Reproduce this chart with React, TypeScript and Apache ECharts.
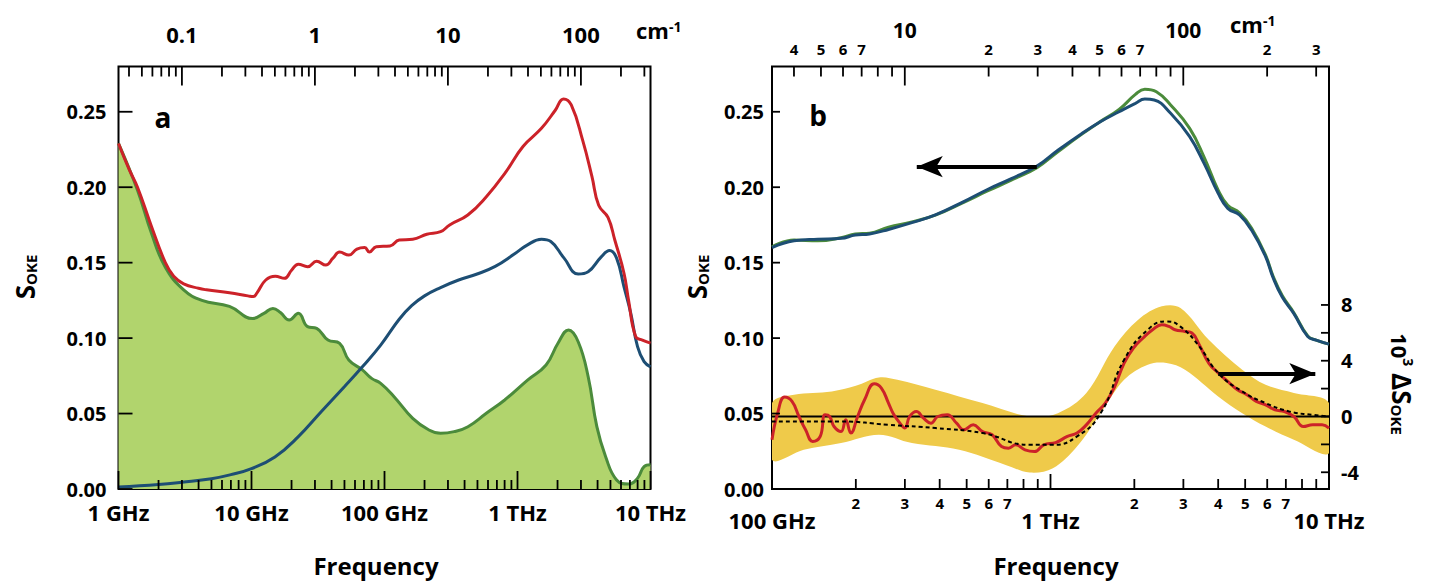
import React, { useEffect, useRef } from 'react';
import * as echarts from 'echarts';

const FONT = '"Open Sans", "Liberation Sans", "DejaVu Sans", sans-serif';
const GHZ_PER_CM = 29.9792458;

// ---------- Panel a (x in GHz) ----------
const A_X_MAJOR = [1, 10, 100, 1000, 10000];
const A_X_MAJOR_LABELS = ['1 GHz', '10 GHz', '100 GHz', '1 THz', '10 THz'];
const A_X_MINOR = [2, 3, 4, 5, 6, 7, 8, 9, 20, 30, 40, 50, 60, 70, 80, 90, 200, 300, 400, 500, 600, 700, 800, 900, 2000, 3000, 4000, 5000, 6000, 7000, 8000, 9000];
const A_TOP_MAJOR = [0.1, 1, 10, 100];
const A_TOP_MAJOR_LABELS = ['0.1', '1', '10', '100'];
const A_TOP_MINOR = [0.04, 0.05, 0.06, 0.07, 0.08, 0.09, 0.2, 0.3, 0.4, 0.5, 0.6, 0.7, 0.8, 0.9, 2, 3, 4, 5, 6, 7, 8, 9, 20, 30, 40, 50, 60, 70, 80, 90, 200, 300];
const Y_TICKS = [0, 0.05, 0.1, 0.15, 0.2, 0.25];

const RED_A = [[1, 0.229], [1.2, 0.212], [1.39, 0.2], [1.77, 0.174], [2.25, 0.15], [2.6, 0.141], [3.09, 0.136], [4.0, 0.133], [4.59, 0.132], [6.83, 0.13], [9.4, 0.128], [10.3, 0.1275], [11, 0.13], [12.8, 0.1385], [15.1, 0.141], [17.7, 0.1396], [20, 0.145], [22.5, 0.149], [26.4, 0.1473], [30.9, 0.151], [36.2, 0.1484], [41, 0.153], [46, 0.157], [53.9, 0.155], [62, 0.159], [71, 0.16], [77, 0.157], [86.8, 0.1606], [110, 0.161], [129, 0.165], [163, 0.1655], [208, 0.1688], [264, 0.1705], [309, 0.175], [423, 0.1816], [583, 0.1937], [801, 0.209], [1100, 0.227], [1514, 0.239], [1923, 0.251], [2218, 0.2585], [2537, 0.2545], [3092, 0.231], [3630, 0.207], [4077, 0.188], [4790, 0.18], [5390, 0.165], [6320, 0.143], [6840, 0.125], [7730, 0.101], [8690, 0.0987], [10000, 0.0967]];
const BLUE_A = [[1, 0.0013], [2, 0.003], [3, 0.0045], [5, 0.0068], [7, 0.0095], [10, 0.0135], [15, 0.0212], [22.5, 0.0347], [33.4, 0.0512], [49.9, 0.0678], [68.2, 0.081], [93.6, 0.0954], [129, 0.1125], [160, 0.1215], [200, 0.128], [264, 0.1335], [361, 0.1385], [497, 0.1425], [680, 0.1475], [940, 0.1555], [1190, 0.1618], [1514, 0.1655], [1780, 0.164], [2240, 0.153], [2860, 0.1425], [3400, 0.144], [4230, 0.1535], [4930, 0.158], [5560, 0.153], [6320, 0.134], [7100, 0.1166], [7990, 0.0943], [8950, 0.0844], [10000, 0.081]];
const GREEN_A = [[1, 0.229], [1.39, 0.198], [1.77, 0.1695], [2.25, 0.147], [3.09, 0.132], [4.24, 0.125], [6.83, 0.121], [10.2, 0.113], [12.4, 0.1164], [14.5, 0.1197], [16.5, 0.117], [19.2, 0.112], [22.5, 0.1164], [26.4, 0.1076], [30.9, 0.1065], [37.6, 0.0987], [46, 0.0965], [53.9, 0.0855], [68.2, 0.0789], [80, 0.0733], [93.6, 0.07], [118, 0.0612], [163, 0.0468], [216, 0.0391], [264, 0.0369], [334, 0.038], [424, 0.0413], [583, 0.0502], [801, 0.059], [1190, 0.0722], [1640, 0.0822], [2015, 0.0966], [2420, 0.1054], [2860, 0.0976], [3400, 0.0744], [3950, 0.0413], [4600, 0.0214], [5560, 0.006], [6840, 0.0033], [7990, 0.0071], [8950, 0.0148], [10000, 0.016]];

// ---------- Panel b ----------
const B_X_MAJOR = [100, 1000, 10000];
const B_X_MAJOR_LABELS = ['100 GHz', '1 THz', '10 THz'];
const B_X_MINOR = [200, 300, 400, 500, 600, 700, 800, 900, 2000, 3000, 4000, 5000, 6000, 7000, 8000, 9000];
const B_X_MINOR_LABELED = [200, 300, 400, 500, 600, 700, 2000, 3000, 4000, 5000, 6000, 7000];
const B_TOP_MAJOR = [10, 100];
const B_TOP_MINOR = [4, 5, 6, 7, 8, 9, 20, 30, 40, 50, 60, 70, 80, 90, 200, 300];
const B_TOP_MINOR_LABELED = [4, 5, 6, 7, 20, 30, 40, 50, 60, 70, 200, 300];
const R_TICKS = [-4, -2, 0, 2, 4, 6, 8];
const R_LABELS = [-4, 0, 4, 8];

const BLUE_B = [[100, 0.16], [120, 0.1645], [146, 0.1655], [177, 0.1661], [199, 0.1683], [224, 0.169], [262, 0.172], [318, 0.1765], [386, 0.1816], [488, 0.1905], [594, 0.1985], [720, 0.2055], [894, 0.214], [1063, 0.2245], [1293, 0.2355], [1510, 0.2434], [1763, 0.25], [2018, 0.2556], [2181, 0.2584], [2358, 0.2578], [2700, 0.249], [3160, 0.2335], [3560, 0.2158], [4000, 0.196], [4330, 0.186], [4770, 0.1816], [5270, 0.1716], [5920, 0.154], [6300, 0.14], [6800, 0.127], [7470, 0.1164], [8390, 0.101], [8990, 0.0987], [10000, 0.096]];
const GREEN_B = [[100, 0.1605], [120, 0.165], [146, 0.1645], [177, 0.1665], [199, 0.169], [224, 0.1695], [262, 0.1735], [318, 0.177], [386, 0.1815], [488, 0.19], [594, 0.1975], [720, 0.2045], [894, 0.213], [1063, 0.2235], [1293, 0.235], [1510, 0.2435], [1763, 0.2515], [2018, 0.2615], [2181, 0.265], [2400, 0.2633], [2700, 0.2545], [3160, 0.239], [3560, 0.22], [4000, 0.198], [4330, 0.188], [4770, 0.183], [5270, 0.173], [5920, 0.155], [6300, 0.141], [6800, 0.128], [7470, 0.117], [8390, 0.1015], [8990, 0.0987], [10000, 0.096]];

const DELTA_B = [[100, -1.67], [104.8, 0.24], [111, 1.39], [118, 1.08], [125, 0], [132, -0.95], [140, -1.79], [149, -1.43], [155, 0.12], [161, 0], [167, -0.72], [177, -1.08], [184, -0.24], [192, -1.19], [203, 0], [215, 1.2], [233, 2.35], [247, 2.04], [262, 0.96], [272, 0.24], [288, -0.48], [300, -0.83], [312, 0], [330, 0.36], [350, -0.12], [372, -0.48], [394, 0], [426, 0.12], [460, -0.48], [488, -0.95], [528, -0.6], [570, -1.08], [617, -1.31], [667, -2.15], [707, -2.27], [750, -2.03], [810, -2.39], [876, -2.51], [947, -2.03], [1043, -1.87], [1150, -1.43], [1245, -1.19], [1345, -0.6], [1455, 0.24], [1574, 0.96], [1700, 2.15], [1838, 3.83], [1985, 4.91], [2150, 5.63], [2325, 6.22], [2510, 6.58], [2660, 6.46], [2800, 6.22], [3040, 6.1], [3220, 5.99], [3420, 5.15], [3700, 3.83], [4000, 3.12], [4330, 2.51], [4690, 1.92], [5070, 1.56], [5480, 1.08], [5920, 0.84], [6400, 0.48], [6920, 0.36], [7480, 0], [8090, -0.72], [8740, -0.6], [9450, -0.6], [10000, -0.83]];
const FIT_B = [[100, -0.36], [177, -0.36], [262, -0.6], [386, -0.83], [570, -1.19], [842, -2.03], [1020, -2.03], [1245, -1.43], [1514, 0.24], [1838, 4.07], [2235, 6.22], [2610, 6.82], [2920, 6.46], [3420, 5.03], [4000, 3.12], [4880, 1.8], [5920, 0.96], [7200, 0.36], [8740, 0.12], [10000, 0]];
const BAND_UPPER = [[100, 0.96], [120, 1.56], [164, 1.8], [200, 2.2], [242, 2.8], [282, 2.63], [386, 1.92], [570, 0.96], [842, 0], [1063, 0.24], [1345, 1.68], [1700, 5.03], [2065, 6.94], [2510, 7.9], [2930, 7.78], [3700, 5.5], [4880, 3.35], [5920, 2.27], [7480, 1.68], [10000, 0.96]];
const BAND_LOWER = [[100, -3.11], [130, -2.39], [177, -1.91], [242, -1.31], [318, -1.91], [470, -2.39], [690, -3.47], [842, -4.02], [1020, -3.71], [1245, -2.15], [1514, 0.24], [1838, 2.63], [2235, 3.71], [2610, 3.83], [3040, 3.35], [4000, 1.44], [4880, 0.24], [5920, -0.72], [7480, -1.67], [10000, -2.63]];
const ZERO_LINE = [[100, 0], [10000, 0]];
const ARROW_LEFT = [[331, 0.2136], [893, 0.2136]];
const ARROW_RIGHT = [[4000, 3.07], [8930, 3.07]];

const RED = '#cc2229';
const BLUE = '#1d4e74';
const GREEN = '#4b8b3b';
const GREEN_FILL = '#b1d46d';
const YELLOW = '#efca4a';

function pick(vals: number[], labels: string[]) {
  return (v: number) => {
    const i = vals.findIndex((x) => Math.abs(Math.log10(x) - Math.log10(v)) < 1e-4);
    return i >= 0 ? labels[i] : '';
  };
}
const leadDigit = (v: number) => {
  const e = Math.floor(Math.log10(v) + 1e-9);
  return String(Math.round(v / Math.pow(10, e)));
};

function logAxis(o: any) {
  return {
    type: 'log', logBase: 10, gridIndex: o.grid, position: o.position, min: o.min, max: o.max,
    axisLine: { show: false }, splitLine: { show: false }, axisTick: { show: false },
    axisLabel: { show: true, customValues: o.labels, formatter: o.fmt, fontSize: o.fontSize || 22, fontWeight: 'bold', fontFamily: FONT, color: '#000', margin: o.margin },
  };
}

const labelStyle = { fontWeight: 'bold', fontFamily: FONT, color: '#000' };

// tick specs: [xAxisIndex, yAxisIndex, 'x'|'y', values, fixed coordinate, direction, length px]
type TickSpec = [number, number, string, number[], number, string, number];

export default function App() {
  const ref = useRef<HTMLDivElement>(null);
  useEffect(() => {
    const chart = echarts.init(ref.current!, null, { renderer: 'svg' });
    const cmMin = 1 / GHZ_PER_CM;
    const cmMax = 10000 / GHZ_PER_CM;
    const cmMinB = 100 / GHZ_PER_CM;
    const Y_MAX = 0.28;
    const R_MIN = -5.2;
    const R_MAX = 25.1;
    const GRID_A = { left: 118.5, top: 66.5, width: 532, height: 422.5 };
    const GRID_B = { left: 772, top: 66.5, width: 557, height: 422.5 };
    const sm = 0.45;

    // scale factors of each axis (data units per pixel), from the grid sizes and axis extents
    const yPerPx: Record<number, number> = { 0: Y_MAX / GRID_A.height, 1: Y_MAX / GRID_B.height, 2: (R_MAX - R_MIN) / GRID_B.height };
    const pxPerDecade: Record<number, number> = { 0: GRID_A.width / 4, 1: GRID_A.width / 4, 2: GRID_B.width / 2, 4: GRID_B.width / 2 };

    const specs: TickSpec[] = [
      [0, 0, 'x', A_X_MAJOR, 0, 'up', 18],
      [0, 0, 'x', A_X_MINOR, 0, 'up', 9],
      [1, 0, 'x', A_TOP_MAJOR, Y_MAX, 'down', 19],
      [1, 0, 'x', A_TOP_MINOR, Y_MAX, 'down', 10],
      [0, 0, 'y', Y_TICKS, 1, 'right', 14],
      [2, 1, 'x', B_X_MAJOR, 0, 'up', 15],
      [2, 1, 'x', B_X_MINOR, 0, 'up', 10],
      [4, 1, 'x', B_TOP_MAJOR, Y_MAX, 'down', 19],
      [4, 1, 'x', B_TOP_MINOR, Y_MAX, 'down', 10],
      [2, 1, 'y', Y_TICKS, 100, 'right', 8],
      [2, 2, 'y', R_TICKS, 10000, 'left', 8],
    ];
    const tickLines: any[] = [];
    specs.forEach(([xi, yi, axis, values, fixed, dir, len]) => {
      values.forEach((v) => {
        let a: number[];
        let b: number[];
        if (axis === 'x') {
          const d = len * yPerPx[yi] * (dir === 'up' ? 1 : -1);
          a = [v, fixed];
          b = [v, fixed + d];
        } else {
          const f = Math.pow(10, (len / pxPerDecade[xi]) * (dir === 'right' ? 1 : -1));
          a = [fixed, v];
          b = [fixed * f, v];
        }
        tickLines.push({
          type: 'line', xAxisIndex: xi, yAxisIndex: yi, data: [a, b], showSymbol: false, silent: true,
          clip: false, z: 6, lineStyle: { color: '#000', width: 1.8 }, emphasis: { disabled: true },
        });
      });
    });

    const sText = (x: number, y: number) => ({
      type: 'text', x, y, rotation: Math.PI / 2,
      style: {
        text: '{s|S}{o|OKE}', align: 'center', verticalAlign: 'middle', fill: '#000',
        rich: { s: { fontSize: 26, fontWeight: 'bold', fontFamily: FONT, verticalAlign: 'bottom' }, o: { fontSize: 15, fontWeight: 'bold', fontFamily: FONT, verticalAlign: 'bottom' } },
      },
    });
    const cmText = (x: number, y: number) => ({
      type: 'text', x, y,
      style: {
        text: '{c|cm}{p|-1}', align: 'left', verticalAlign: 'middle', fill: '#000',
        rich: { c: { fontSize: 22, fontWeight: 'bold', fontFamily: FONT, verticalAlign: 'bottom' }, p: { fontSize: 14, fontWeight: 'bold', fontFamily: FONT, verticalAlign: 'top' } },
      },
    });
    const option: any = {
      animation: false,
      grid: [
        { ...GRID_A, show: true, borderColor: '#000', borderWidth: 2, backgroundColor: 'transparent' },
        { ...GRID_B, show: true, borderColor: '#000', borderWidth: 2, backgroundColor: 'transparent' },
      ],
      xAxis: [
        logAxis({ grid: 0, position: 'bottom', min: 1, max: 10000, labels: A_X_MAJOR, fmt: pick(A_X_MAJOR, A_X_MAJOR_LABELS), margin: 12 }),
        logAxis({ grid: 0, position: 'top', min: cmMin, max: cmMax, labels: A_TOP_MAJOR, fmt: pick(A_TOP_MAJOR, A_TOP_MAJOR_LABELS), margin: 22 }),
        logAxis({ grid: 1, position: 'bottom', min: 100, max: 10000, labels: B_X_MAJOR, fmt: pick(B_X_MAJOR, B_X_MAJOR_LABELS), margin: 20 }),
        logAxis({ grid: 1, position: 'bottom', min: 100, max: 10000, labels: B_X_MINOR_LABELED, fmt: leadDigit, fontSize: 15, margin: 6 }),
        logAxis({ grid: 1, position: 'top', min: cmMinB, max: cmMax, labels: B_TOP_MAJOR, fmt: (v: number) => String(Math.round(v)), fontSize: 21, margin: 26 }),
        logAxis({ grid: 1, position: 'top', min: cmMinB, max: cmMax, labels: B_TOP_MINOR_LABELED, fmt: leadDigit, fontSize: 15, margin: 10 }),
      ],
      yAxis: [
        {
          type: 'value', gridIndex: 0, min: 0, max: Y_MAX, position: 'left',
          axisLine: { show: false }, splitLine: { show: false }, axisTick: { show: false },
          axisLabel: { customValues: Y_TICKS, formatter: (v: number) => v.toFixed(2), fontSize: 20, margin: 12, ...labelStyle },
        },
        {
          type: 'value', gridIndex: 1, min: 0, max: Y_MAX, position: 'left',
          axisLine: { show: false }, splitLine: { show: false }, axisTick: { show: false },
          axisLabel: { customValues: Y_TICKS, formatter: (v: number) => v.toFixed(2), fontSize: 20, margin: 8, ...labelStyle },
        },
        {
          type: 'value', gridIndex: 1, min: R_MIN, max: R_MAX, position: 'right',
          axisLine: { show: false }, splitLine: { show: false }, axisTick: { show: false },
          axisLabel: { customValues: R_LABELS, formatter: (v: number) => String(v), fontSize: 20, margin: 12, ...labelStyle },
        },
      ],
      series: [
        { type: 'line', xAxisIndex: 0, yAxisIndex: 0, data: GREEN_A, showSymbol: false, smooth: sm, lineStyle: { color: GREEN, width: 3 }, areaStyle: { color: GREEN_FILL, opacity: 1, origin: 'start' }, z: 2 },
        { type: 'line', xAxisIndex: 0, yAxisIndex: 0, data: BLUE_A, showSymbol: false, smooth: sm, lineStyle: { color: BLUE, width: 3 }, z: 3 },
        { type: 'line', xAxisIndex: 0, yAxisIndex: 0, data: RED_A, showSymbol: false, smooth: sm, lineStyle: { color: RED, width: 3 }, z: 4 },
        {
          type: 'custom', xAxisIndex: 2, yAxisIndex: 2, data: [[1000, 0]], clip: true, z: 1, silent: true,
          renderItem: (_p: any, api: any) => {
            const pts = BAND_UPPER.map((d) => api.coord(d)).concat(BAND_LOWER.slice().reverse().map((d) => api.coord(d)));
            return { type: 'polygon', shape: { points: pts, smooth: 0.35 }, style: { fill: YELLOW } };
          },
        },
        {
          type: 'line', xAxisIndex: 2, yAxisIndex: 2, data: ZERO_LINE, showSymbol: false, lineStyle: { color: '#000', width: 2 }, z: 2,
          markLine: { silent: true, symbol: ['none', 'arrow'], symbolSize: [16, 26], label: { show: false }, lineStyle: { color: '#000', width: 4, type: 'solid' }, data: [[{ coord: ARROW_RIGHT[0] }, { coord: ARROW_RIGHT[1] }]] },
        },
        { type: 'line', xAxisIndex: 2, yAxisIndex: 2, data: DELTA_B, showSymbol: false, smooth: sm, lineStyle: { color: RED, width: 3 }, z: 3 },
        { type: 'line', xAxisIndex: 2, yAxisIndex: 2, data: FIT_B, showSymbol: false, smooth: 0.5, lineStyle: { color: '#000', width: 2, type: [4, 3] }, z: 4 },
        { type: 'line', xAxisIndex: 2, yAxisIndex: 1, data: GREEN_B, showSymbol: false, smooth: sm, lineStyle: { color: GREEN, width: 3 }, z: 3 },
        {
          type: 'line', xAxisIndex: 2, yAxisIndex: 1, data: BLUE_B, showSymbol: false, smooth: sm, lineStyle: { color: BLUE, width: 3 }, z: 4,
          markLine: { silent: true, symbol: ['arrow', 'none'], symbolSize: [16, 26], label: { show: false }, lineStyle: { color: '#000', width: 4, type: 'solid' }, data: [[{ coord: ARROW_LEFT[0] }, { coord: ARROW_LEFT[1] }]] },
        },
        ...tickLines,
      ],
      graphic: [
        { type: 'text', x: 163, y: 117, style: { text: 'a', fontSize: 28, align: 'center', verticalAlign: 'middle', ...labelStyle, fill: '#000' }, z: 10 },
        { type: 'text', x: 818, y: 115, style: { text: 'b', fontSize: 28, align: 'center', verticalAlign: 'middle', ...labelStyle, fill: '#000' }, z: 10 },
        { type: 'text', x: 376, y: 565, style: { text: 'Frequency', fontSize: 24, align: 'center', verticalAlign: 'middle', ...labelStyle, fill: '#000' } },
        { type: 'text', x: 1056, y: 565, style: { text: 'Frequency', fontSize: 24, align: 'center', verticalAlign: 'middle', ...labelStyle, fill: '#000' } },
        sText(25, 277),
        sText(697, 277),
        {
          type: 'text', x: 1402, y: 384, rotation: -Math.PI / 2,
          style: {
            text: '{n|10}{p|3}{s| ΔS}{o|OKE}', align: 'center', verticalAlign: 'middle', fill: '#000',
            rich: {
              n: { fontSize: 22, fontWeight: 'bold', fontFamily: FONT, verticalAlign: 'bottom' },
              p: { fontSize: 14, fontWeight: 'bold', fontFamily: FONT, verticalAlign: 'top' },
              s: { fontSize: 26, fontWeight: 'bold', fontFamily: FONT, verticalAlign: 'bottom' },
              o: { fontSize: 15, fontWeight: 'bold', fontFamily: FONT, verticalAlign: 'bottom' },
            },
          },
        },
        cmText(636, 30),
        cmText(1230, 24),
      ],
    };
    chart.setOption(option);
    return () => chart.dispose();
  }, []);
  return <div ref={ref} style={{ position: 'fixed', left: 0, top: 0, width: 1439, height: 586, background: '#fff' }} />;
}
